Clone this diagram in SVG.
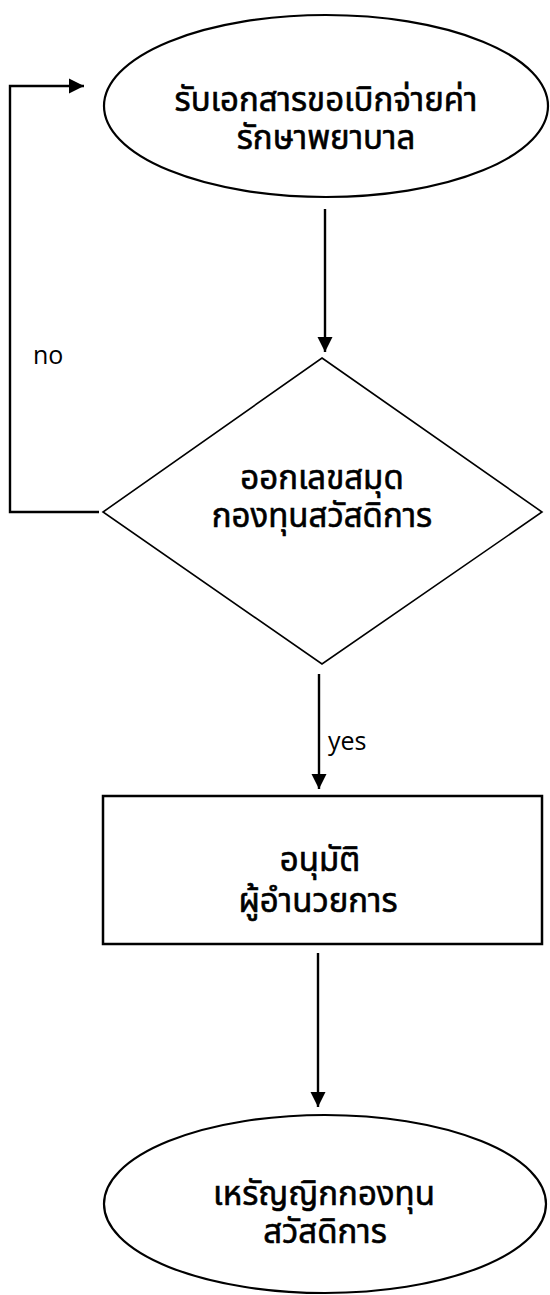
<svg xmlns="http://www.w3.org/2000/svg" width="550" height="1295" viewBox="0 0 550 1295">
  <defs>
    <marker id="arrow" markerUnits="userSpaceOnUse" markerWidth="16" markerHeight="16" refX="15" refY="8" orient="auto">
      <path d="M0,0.5 L15,8 L0,15.5 Z" fill="#000"/>
    </marker>
  </defs>
  <style>
    .shape { fill: #fff; stroke: #000; }
    .label { font-family: Tahoma, "Leelawadee UI", "Noto Sans Thai", "Noto Sans Thai UI", Loma, Garuda, "Noto Sans", sans-serif; font-size: 33px; text-anchor: middle; fill: #000; stroke: #000; stroke-width: 0.6; }
    .edge { fill: none; stroke: #000; stroke-width: 2.4; marker-end: url(#arrow); }
    .edge-label { font-family: "Open Sans", "Liberation Sans", sans-serif; font-size: 25px; fill: #000; }
  </style>
  <rect width="550" height="1295" fill="#fff"/>

  <!-- start: receive documents -->
  <g id="start">
    <ellipse class="shape" cx="326" cy="106" rx="222" ry="91" stroke-width="2.2"/>
    <text class="label" x="326" y="111">รับเอกสารขอเบิกจ่ายค่า</text>
    <text class="label" x="326" y="149">รักษาพยาบาล</text>
  </g>

  <!-- decision: issue fund book number -->
  <g id="decision">
    <polygon class="shape" points="322,358 542,512 322,664 103,512" stroke-width="1.6"/>
    <text class="label" x="322" y="489">ออกเลขสมุด</text>
    <text class="label" x="322" y="527">กองทุนสวัสดิการ</text>
  </g>

  <!-- process: director approval -->
  <g id="approve">
    <rect class="shape" x="103" y="796" width="439" height="148" stroke-width="2.5"/>
    <text class="label" x="320" y="871">อนุมัติ</text>
    <text class="label" x="318" y="912">ผู้อำนวยการ</text>
  </g>

  <!-- end: fund treasurer -->
  <g id="treasurer">
    <ellipse class="shape" cx="325" cy="1204" rx="221" ry="89" stroke-width="2.2"/>
    <text class="label" x="324" y="1205">เหรัญญิกกองทุน</text>
    <text class="label" x="325" y="1243">สวัสดิการ</text>
  </g>

  <!-- connectors -->
  <g id="connectors">
    <path class="edge" d="M99,512 H10 V86 H84"/>
    <path class="edge" d="M325,209 V352"/>
    <path class="edge" d="M319,674 V789"/>
    <path class="edge" d="M318,953 V1107"/>
    <text class="edge-label" x="33" y="364">no</text>
    <text class="edge-label" x="328" y="750">yes</text>
  </g>
</svg>
